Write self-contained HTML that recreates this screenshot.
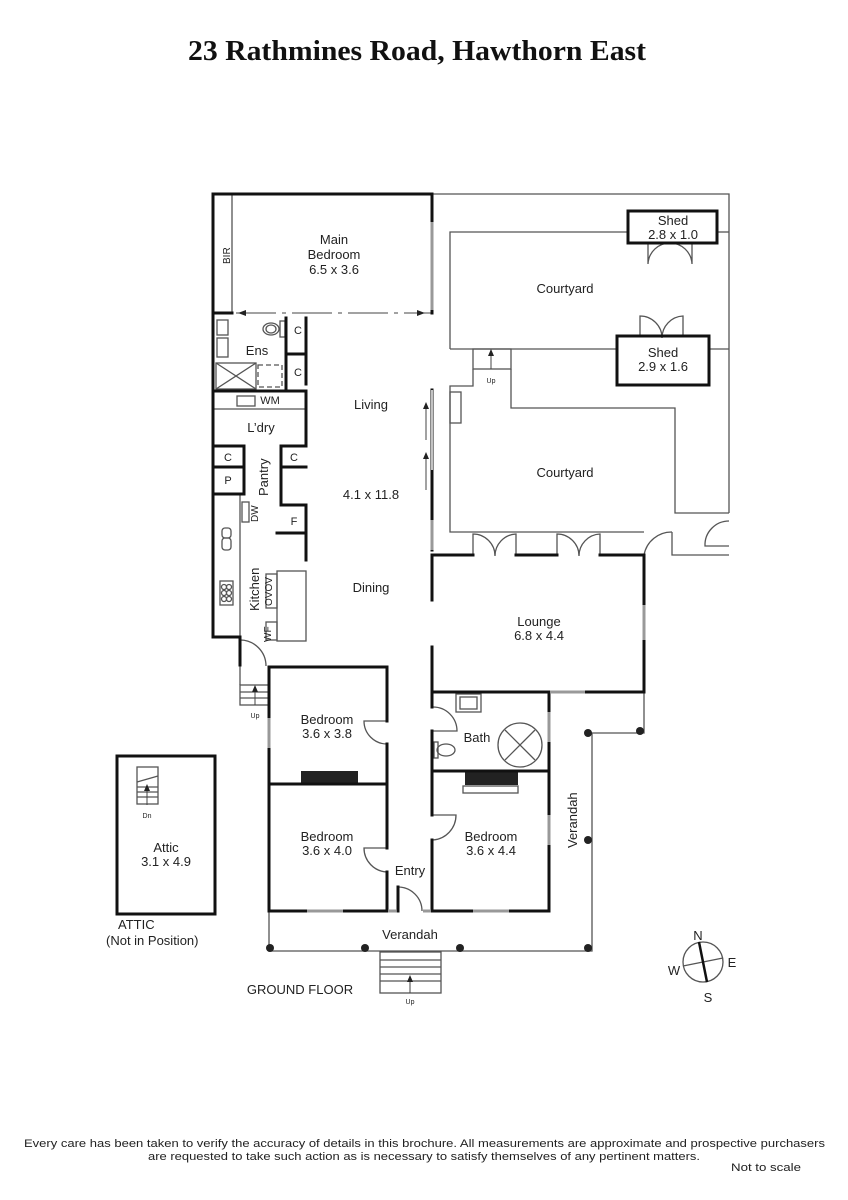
<!DOCTYPE html>
<html><head><meta charset="utf-8"><style>
html,body{margin:0;padding:0;background:#fff;}
svg{display:block;}
text{font-family:"Liberation Sans",sans-serif;fill:#222;}
</style></head><body>
<svg width="848" height="1200" viewBox="0 0 848 1200" xmlns="http://www.w3.org/2000/svg">
<text x="417" y="60" text-anchor="middle" textLength="458" lengthAdjust="spacingAndGlyphs" style="font-family:'Liberation Serif',serif;font-weight:bold;font-size:28px;fill:#111">23 Rathmines Road, Hawthorn East</text>

<g fill="none" stroke="#555" stroke-width="1.3">
<polyline points="432,194 729,194 729,513"/>
<polyline points="450,349 450,232 628,232"/>
<line x1="717" y1="232" x2="729" y2="232"/>
<line x1="450" y1="349" x2="617" y2="349"/>
<line x1="709" y1="349" x2="729" y2="349"/>
<rect x="473" y="349" width="38" height="20"/>
<polyline points="473,369 473,386 450,386 450,532 644,532"/>
<polyline points="511,369 511,408 675,408 675,513 729,513"/>
<polyline points="672,532 672,555 729,555"/>
<path d="M729,521 A24,24 0 0 0 705,546 L729,546"/>
<path d="M644,555 A28,28 0 0 1 672,532"/>
<path d="M648,243 L648,264 A22,22 0 0 1 670,243 A22,22 0 0 1 692,264 L692,243"/>
<path d="M640,336 L640,316 A22,22 0 0 1 662,338 A22,22 0 0 1 683,316 L683,336"/>
<path d="M473,555 L473,534 A22,22 0 0 1 495,556 A22,22 0 0 1 516,534 L516,555"/>
<path d="M557,555 L557,534 A22,22 0 0 1 579,556 A22,22 0 0 1 600,534 L600,555"/>
<polyline points="269,911 269,951 592,951 592,733 644,733 644,692"/>
<rect x="380" y="952" width="61" height="41"/>
<line x1="380" y1="960" x2="441" y2="960"/><line x1="380" y1="967" x2="441" y2="967"/><line x1="380" y1="974" x2="441" y2="974"/><line x1="380" y1="981" x2="441" y2="981"/>
<rect x="240" y="685" width="29" height="20"/>
<line x1="240" y1="692" x2="269" y2="692"/><line x1="240" y1="698" x2="269" y2="698"/>
<line x1="240" y1="665" x2="240" y2="685"/>
<line x1="232" y1="194" x2="232" y2="313"/>
<line x1="213" y1="409" x2="306" y2="409"/>
<line x1="240" y1="494" x2="240" y2="637"/>
<rect x="277" y="571" width="29" height="70"/>
<rect x="266" y="574" width="11" height="34"/><rect x="266" y="622" width="11" height="18"/>
<rect x="242" y="502" width="7" height="20"/>
<rect x="237" y="396" width="18" height="10"/>
<rect x="217" y="320" width="11" height="15"/><rect x="217" y="338" width="11" height="19"/>
<rect x="216" y="363" width="40" height="26"/>
<line x1="216" y1="363" x2="256" y2="389"/><line x1="256" y1="363" x2="216" y2="389"/>
<rect x="258" y="365" width="24" height="22" stroke-dasharray="5,3"/>
<ellipse cx="271" cy="329" rx="8" ry="6"/><ellipse cx="271" cy="329" rx="5" ry="4"/><rect x="280" y="321" width="5" height="16"/>
<rect x="222" y="528" width="9" height="10" rx="3"/><rect x="222" y="538" width="9" height="12" rx="3"/>
<rect x="220" y="581" width="13" height="24"/>
<circle cx="224" cy="587" r="2.5"/><circle cx="229" cy="587" r="2.5"/><circle cx="224" cy="593" r="2.5"/><circle cx="229" cy="593" r="2.5"/><circle cx="224" cy="599" r="2.5"/><circle cx="229" cy="599" r="2.5"/>
<rect x="456" y="694" width="25" height="18"/><rect x="460" y="697" width="17" height="12"/>
<circle cx="520" cy="745" r="22"/><line x1="505" y1="730" x2="535" y2="760"/><line x1="535" y1="730" x2="505" y2="760"/>
<ellipse cx="446" cy="750" rx="9" ry="6"/><rect x="434" y="742" width="4" height="16"/>
<rect x="463" y="786" width="55" height="7"/>
<rect x="450" y="392" width="11" height="31"/>
<rect x="137" y="767" width="21" height="37"/>
<line x1="137" y1="782" x2="158" y2="776"/>
<line x1="137" y1="787" x2="158" y2="787"/><line x1="137" y1="792" x2="158" y2="792"/><line x1="137" y1="797" x2="158" y2="797"/>
<path d="M240,640 A26,26 0 0 1 266,666"/>
<path d="M387,721 H364 A23,23 0 0 0 387,744"/>
<path d="M387,848 H364 A24,24 0 0 0 387,872"/>
<path d="M433,707 A24,24 0 0 1 457,731 H433"/>
<path d="M433,815 H456 A25,25 0 0 1 433,840"/>
<path d="M398,887 A24,24 0 0 1 422,911"/>
<circle cx="703" cy="962" r="20"/><line x1="683" y1="966" x2="723" y2="958"/>
</g>
<line x1="699" y1="942" x2="707" y2="982" stroke="#111" stroke-width="2.5"/>
<g stroke="#444" stroke-width="1">
<line x1="255" y1="705" x2="255" y2="688"/><line x1="491" y1="369" x2="491" y2="352"/>
<line x1="410" y1="993" x2="410" y2="978"/><line x1="147" y1="805" x2="147" y2="787"/>
<line x1="426" y1="440" x2="426" y2="405"/><line x1="426" y1="490" x2="426" y2="455"/>
<line x1="236" y1="313" x2="432" y2="313" stroke-dasharray="40,6,4,6"/>
</g>
<g fill="#222">
<polygon points="255,685 252,692 258,692"/><polygon points="491,349 488,356 494,356"/><polygon points="410,975 407,982 413,982"/><polygon points="147,784 144,791 150,791"/>
<polygon points="426,402 423,409 429,409"/><polygon points="426,452 423,459 429,459"/>
<polygon points="238,313 246,310 246,316"/><polygon points="425,313 417,310 417,316"/>
<rect x="301" y="771" width="57" height="13"/><rect x="465" y="771" width="53" height="14"/>
<circle cx="270" cy="948" r="4"/><circle cx="365" cy="948" r="4"/><circle cx="460" cy="948" r="4"/><circle cx="588" cy="948" r="4"/><circle cx="588" cy="840" r="4"/><circle cx="588" cy="733" r="4"/><circle cx="640" cy="731" r="4"/>
</g>

<g fill="none" stroke="#111" stroke-width="3" stroke-linecap="square">
<polyline points="432,313 432,194 213,194 213,637 240,637 240,665"/>
<line x1="213" y1="313" x2="232" y2="313"/>
<polyline points="306,318 306,384"/><line x1="286" y1="318" x2="286" y2="391"/><line x1="286" y1="354" x2="306" y2="354"/>
<line x1="213" y1="391" x2="306" y2="391"/><line x1="306" y1="391" x2="306" y2="409"/>
<polyline points="213,446 244,446 244,494 213,494"/><line x1="213" y1="467" x2="244" y2="467"/>
<polyline points="306,409 306,446 281,446 281,505 306,505"/><line x1="281" y1="467" x2="306" y2="467"/>
<polyline points="277,533 306,533 306,560"/><line x1="306" y1="505" x2="306" y2="533"/>
<line x1="432" y1="390" x2="432" y2="550"/>
<polyline points="432,600 432,555 473,555"/><line x1="516" y1="555" x2="557" y2="555"/><polyline points="600,555 644,555 644,692 549,692"/>
<polyline points="432,647 432,707"/><line x1="432" y1="731" x2="432" y2="815"/><polyline points="432,840 432,911 549,911 549,692 433,692"/><line x1="433" y1="771" x2="549" y2="771"/>
<polyline points="387,911 269,911 269,667 387,667 387,721"/><line x1="387" y1="744" x2="387" y2="848"/><line x1="387" y1="872" x2="387" y2="911"/>
<line x1="269" y1="784" x2="387" y2="784"/>
<line x1="398" y1="887" x2="398" y2="911"/>
<rect x="628" y="211" width="89" height="32"/>
<rect x="617" y="336" width="92" height="49"/>
<rect x="117" y="756" width="98" height="158"/>
</g>
<g stroke="#999" stroke-width="3">
<line x1="432" y1="222" x2="432" y2="310"/><line x1="432" y1="520" x2="432" y2="550"/>
<line x1="644" y1="605" x2="644" y2="640"/><line x1="550" y1="692" x2="585" y2="692"/>
<line x1="549" y1="712" x2="549" y2="742"/><line x1="549" y1="815" x2="549" y2="845"/>
<line x1="269" y1="718" x2="269" y2="748"/><line x1="307" y1="911" x2="343" y2="911"/><line x1="473" y1="911" x2="509" y2="911"/>
<line x1="388" y1="911" x2="396" y2="911"/><line x1="423" y1="911" x2="431" y2="911"/>
</g>
<line x1="432" y1="390" x2="432" y2="470" stroke="#fff" stroke-width="1.5"/>

<g font-size="13" text-anchor="middle">
<text x="334" y="244">Main</text><text x="334" y="259">Bedroom</text><text x="334" y="274">6.5 x 3.6</text>
<text x="257" y="355">Ens</text><text x="371" y="409">Living</text><text x="261" y="432">L’dry</text>
<text x="371" y="499">4.1 x 11.8</text><text x="371" y="592">Dining</text>
<text x="565" y="293">Courtyard</text><text x="565" y="477">Courtyard</text>
<text x="673" y="225">Shed</text><text x="673" y="239">2.8 x 1.0</text>
<text x="663" y="357">Shed</text><text x="663" y="371">2.9 x 1.6</text>
<text x="539" y="626">Lounge</text><text x="539" y="640">6.8 x 4.4</text>
<text x="327" y="724">Bedroom</text><text x="327" y="738">3.6 x 3.8</text>
<text x="327" y="841">Bedroom</text><text x="327" y="855">3.6 x 4.0</text>
<text x="491" y="841">Bedroom</text><text x="491" y="855">3.6 x 4.4</text>
<text x="477" y="742">Bath</text><text x="410" y="875">Entry</text><text x="410" y="939">Verandah</text>
<text x="166" y="852">Attic</text><text x="166" y="866">3.1 x 4.9</text>
<text x="300" y="994">GROUND FLOOR</text>
<text x="698" y="940">N</text><text x="732" y="967">E</text><text x="708" y="1002">S</text><text x="674" y="975">W</text>
</g>
<g font-size="11" text-anchor="middle">
<text x="298" y="334">C</text><text x="298" y="376">C</text><text x="270" y="404">WM</text>
<text x="228" y="461">C</text><text x="294" y="461">C</text><text x="228" y="484">P</text><text x="294" y="525">F</text>
</g>
<g font-size="7" text-anchor="middle"><text x="255" y="718">Up</text><text x="491" y="383">Up</text><text x="410" y="1004">Up</text><text x="147" y="818">Dn</text></g>
<g font-size="10"><text transform="translate(230,264) rotate(-90)">BIR</text><text transform="translate(258,522) rotate(-90)">DW</text><text transform="translate(271,642) rotate(-90)">WF</text></g>
<text transform="translate(259,611) rotate(-90)" font-size="13">Kitchen</text>
<text transform="translate(272,606) rotate(-90)" font-size="10">OVOV</text>
<text transform="translate(577,848) rotate(-90)" font-size="13">Verandah</text>
<text transform="translate(268,496) rotate(-90)" font-size="13">Pantry</text>
<text x="118" y="929" font-size="13">ATTIC</text><text x="106" y="945" font-size="13">(Not in Position)</text>
<g font-size="11">
<text x="24" y="1147" textLength="801" lengthAdjust="spacingAndGlyphs">Every care has been taken to verify the accuracy of details in this brochure.  All measurements are approximate and prospective purchasers</text>
<text x="148" y="1160" textLength="552" lengthAdjust="spacingAndGlyphs">are requested to take such action as is necessary to satisfy themselves of any pertinent matters.</text>
<text x="731" y="1171" textLength="70" lengthAdjust="spacingAndGlyphs">Not to scale</text>
</g>
</svg>
</body></html>
